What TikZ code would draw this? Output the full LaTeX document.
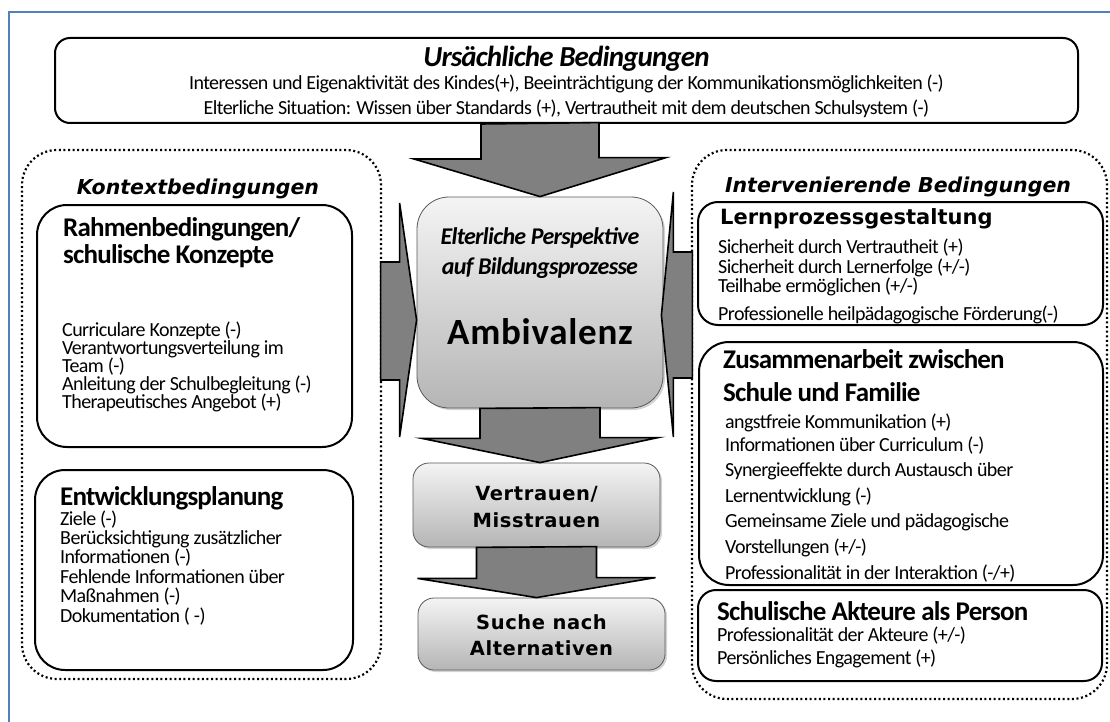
\documentclass[tikz,border=0pt]{standalone}
\usepackage{fontspec}
\setmainfont{Carlito}[LetterSpace=-3]
\newfontfamily\verdfont{DejaVu Sans}
\newfontfamily\stagefont{DejaVu Sans}[LetterSpace=3]
\newfontfamily\widefont{Carlito}[LetterSpace=2]
\usetikzlibrary{calc,shadows}

\definecolor{framblue}{HTML}{4F81BD}
\definecolor{arrowgray}{HTML}{808080}
\definecolor{boxtop}{HTML}{F4F4F4}
\definecolor{boxbot}{HTML}{B5B5B5}

\tikzset{
panel/.style    = {draw, line width=2.2pt, dash pattern=on 2pt off 2.6pt, rounded corners=35pt, fill=white},
catbox/.style   = {draw, line width=2pt, rounded corners=#1, fill=white},
stagebox/.style = {draw=black!65, line width=0.8pt, rounded corners=#1, top color=boxtop, bottom color=boxbot,
                   drop shadow={opacity=0.35, shadow xshift=2pt, shadow yshift=-2pt}},
bigarrow/.style = {draw, line width=1.6pt, fill=arrowgray, line join=miter},
item/.style     = {anchor=base west, inner sep=0pt, font=\fontsize{20}{22}\selectfont},
toptext/.style  = {anchor=base, inner sep=0pt, font=\fontsize{20}{22}\selectfont},
head/.style     = {anchor=base west, inner sep=0pt, text height=16pt, text depth=3pt,
                   font=\fontsize{27}{29}\selectfont\bfseries},
vhead/.style    = {anchor=base west, inner sep=0pt, font=\verdfont\fontsize{21}{23}\selectfont\bfseries},
group/.style    = {anchor=base, inner sep=0pt, font=\verdfont\fontsize{20.5}{22}\selectfont\bfseries\itshape},
stage/.style    = {anchor=base, inner sep=0pt, font=\stagefont\fontsize{19.5}{21}\selectfont\bfseries}
}

\begin{document}
\begin{tikzpicture}[x=1pt, y=-1pt]
  \useasboundingbox (0,0) rectangle (1110,722);
  \draw [framblue, line width=1.5pt] (9,722) -- (9,12) -- (1110,12);

  % outer boxes
  \node [catbox=15pt, minimum width=1023pt, minimum height=85pt]  (cause)   at (566.5,80.5) {};
  \node [panel, minimum width=359pt, minimum height=529pt]         (kontext) at (201.5,414.5) {};
  \node [panel, minimum width=415pt, minimum height=549pt]         (interv)  at (899.5,424.5) {};

  \node [catbox=30pt, minimum width=315pt, minimum height=242pt]  (rahmen)  at (194.5,326) {};
  \node [catbox=30pt, minimum width=318pt, minimum height=200pt]  (entw)    at (194,570) {};
  \node [catbox=20pt, minimum width=405pt, minimum height=123pt]  (lern)    at (900.5,263.5) {};
  \node [catbox=30pt, minimum width=404pt, minimum height=243pt]  (zus)     at (901,463.5) {};
  \node [catbox=18pt, minimum width=404pt, minimum height=91pt]   (schul)   at (900,635.5) {};

  % centre column
  \node [stagebox=32pt, minimum width=246pt, minimum height=211pt] (ambi)   at (540,302.5) {};
  \node [stagebox=16pt, minimum width=247pt, minimum height=84pt]  (vert)   at (536.5,505) {};
  \node [stagebox=16pt, minimum width=247pt, minimum height=72pt]  (such)   at (541.5,634) {};

  \coordinate (ltip) at ($(ambi.west)+(0,17.5)$);
  \coordinate (rtip) at ($(ambi.east)+(-2,12.5)$);

  \draw [bigarrow] ($(ambi.north |- cause.south)+(-59,0)$) -- ++(0,35) -- ++(-67,0) -- (ambi.north)
        -- ++(126,-39) -- ++(-67,0) -- ++(0,-35) -- cycle;
  \draw [bigarrow] (ltip) -- ++(-17,-117) -- ++(0,59) -- ++(-19,0) -- ++(0,118) -- ++(19,0) -- ++(0,57) -- cycle;
  \draw [bigarrow] (rtip) -- ++(12,-123) -- ++(0,60) -- ++(19,0) -- ++(0,126) -- ++(-19,0) -- ++(0,59) -- cycle;
  \draw [bigarrow] ($(ambi.south)+(-60,0)$) -- ++(0,30) -- ++(-58,0) -- (ambi.south |- vert.north)
        -- ++(118,-25) -- ++(-58,0) -- ++(0,-30) -- cycle;
  \draw [bigarrow] ($(vert.south)+(-60,0)$) -- ++(0,31) -- ++(-59,0) -- (vert.south |- such.north)
        -- ++(119,-20) -- ++(-59,0) -- ++(0,-31) -- cycle;

  % texts
  \node [anchor=base, inner sep=0pt, font=\fontsize{29}{31}\selectfont\bfseries\itshape] (causehead) at (566.5,67) {Ursächliche Bedingungen};
  \node [toptext] (cause1) at (566.5,89.5) {Interessen und  Eigenaktivität des Kindes(+), Beeinträchtigung der Kommunikationsmöglichkeiten (-)};
  \node [toptext] (cause2) at (566.5,114.5) {Elterliche Situation: Wissen über Standards (+), Vertrautheit mit dem deutschen Schulsystem (-)};

  \node [group] (kontexthead) at (198,194.5) {Kontextbedingungen};
  \node [group] (intervhead)  at (898,192.5) {Intervenierende Bedingungen};

  \node [head] (rahmen1) at (63,236) {Rahmenbedingungen/};
  \node [head] (rahmen2) at (63,263) {schulische Konzepte};
  \foreach \y/\t [count=\i] in {336/{Curriculare Konzepte (-)}, 354/{Verantwortungsverteilung im},
      372/{Team (-)}, 390/{Anleitung der Schulbegleitung (-)}, 408/{Therapeutisches Angebot (+)}}
    \node [item] (rahmenitem\i) at (62,\y) {\t};

  \node [head] (entw1) at (60,505) {Entwicklungsplanung};
  \foreach \y/\t [count=\i] in {525/{Ziele (-)}, 544/{Berücksichtigung zusätzlicher}, 563.5/{Informationen (-)},
      583/{Fehlende Informationen über}, 602.5/{Maßnahmen (-)}, 622/{Dokumentation ( -)}}
    \node [item] (entwitem\i) at (60,\y) {\t};

  \node [vhead] (lern1) at (720,224.5) {Lernprozessgestaltung};
  \foreach \y/\t [count=\i] in {253/{Sicherheit durch Vertrautheit (+)}, 273/{Sicherheit durch Lernerfolge  (+/-)},
      292/{Teilhabe ermöglichen (+/-)}, 320/{Professionelle heilpädagogische Förderung(-)}}
    \node [item] (lernitem\i) at (718,\y) {\t};

  \node [head] (zus1) at (723,368.5) {Zusammenarbeit  zwischen};
  \node [head] (zus2) at (723,401.5) {Schule und Familie};
  \foreach \y/\t [count=\i] in {428/{angstfreie Kommunikation (+)}, 451/{Informationen über Curriculum (-)},
      476/{Synergieeffekte durch Austausch über}, 502.5/{Lernentwicklung (-)},
      527.5/{Gemeinsame Ziele  und  pädagogische}, 553.5/{Vorstellungen (+/-)},
      579/{Professionalität in der Interaktion (-/+)}}
    \node [item] (zusitem\i) at (725,\y) {\t};

  \node [head] (schul1) at (717,620) {Schulische Akteure als Person};
  \foreach \y/\t [count=\i] in {641.5/{Professionalität der Akteure (+/-)}, 664/{Persönliches Engagement (+)}}
    \node [item] (schulitem\i) at (717,\y) {\t};

  \node [anchor=base, inner sep=0pt, font=\fontsize{24}{26}\selectfont\bfseries\itshape] (ambi1) at (540,244.5) {Elterliche Perspektive};
  \node [anchor=base, inner sep=0pt, font=\fontsize{24}{26}\selectfont\bfseries\itshape] (ambi2) at (540,274.5) {auf Bildungsprozesse};
  \node [anchor=base, inner sep=0pt, font=\widefont\fontsize{37}{39}\selectfont\bfseries] (ambi3) at (540,344) {Ambivalenz};

  \node [stage] (vert1) at (536.5,500) {Vertrauen/};
  \node [stage] (vert2) at (536.5,527) {Misstrauen};
  \node [stage] (such1) at (541.5,629) {Suche nach};
  \node [stage] (such2) at (541.5,655) {Alternativen};
\end{tikzpicture}
\end{document}
